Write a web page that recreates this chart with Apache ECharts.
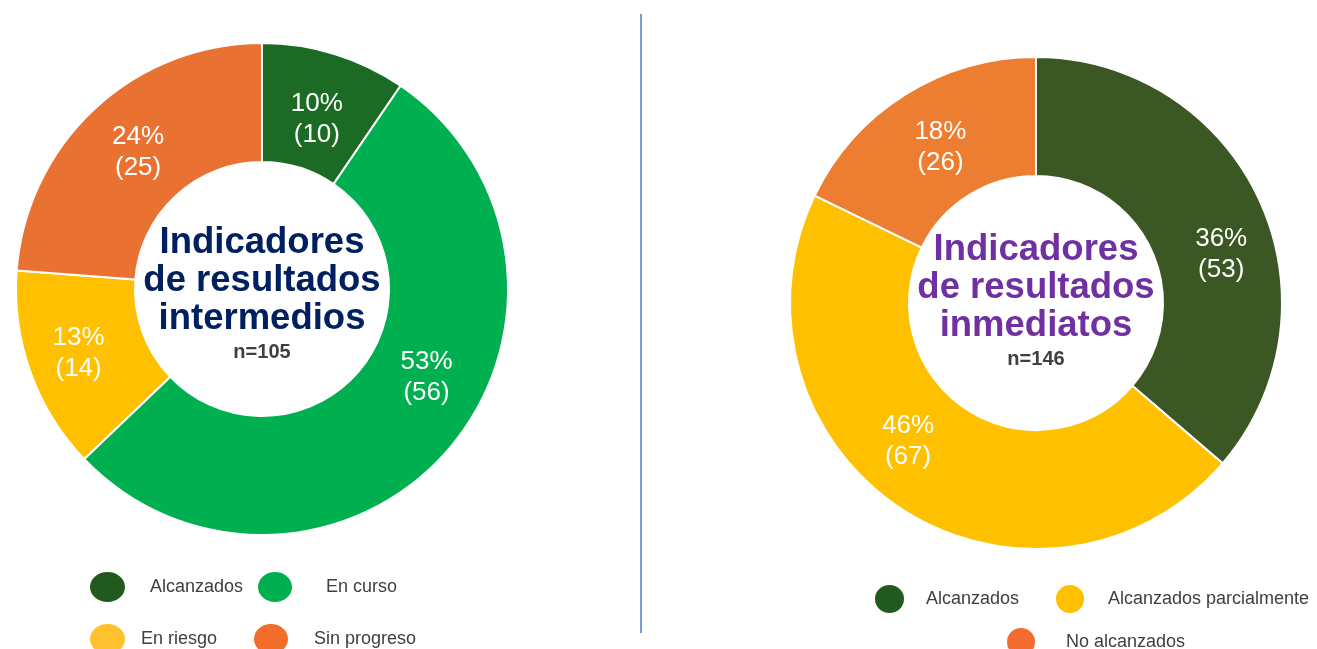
<!DOCTYPE html>
<html>
<head>
<meta charset="utf-8">
<style>
  html, body { margin: 0; padding: 0; background: #ffffff; }
  #chart { width: 1317px; height: 649px; }
</style>
<script src="https://cdn.jsdelivr.net/npm/echarts@6/dist/echarts.min.js"></script>
</head>
<body>
<div id="chart"></div>
<script>
// ---- Data ----
const leftCategories = ['Alcanzados', 'En curso', 'En riesgo', 'Sin progreso'];
const leftValues = [10, 56, 14, 25];
const leftTitle = ['Indicadores', 'de resultados', 'intermedios'];
const leftN = 'n=105';

const rightCategories = ['Alcanzados', 'Alcanzados parcialmente', 'No alcanzados'];
const rightValues = [53, 67, 26];
const rightTitle = ['Indicadores', 'de resultados', 'inmediatos'];
const rightN = 'n=146';

// ---- Styles ----
const leftColors = ['#1B6B25', '#00B050', '#FFC000', '#E97132'];
const rightColors = ['#3A5724', '#FFC000', '#ED7D31'];
const leftLegendColors = ['#215A1E', '#00B050', '#FFC12E', '#F26C2B'];
const rightLegendColors = ['#215A1E', '#FFC000', '#F46B30'];

const FONT = 'Liberation Sans';
const ELLIPSE = 'path://M1,0A1,1,0,1,1,-1,0A1,1,0,1,1,1,0Z';

function pieSeries(name, cats, vals, colors, center, nudges) {
  const total = vals.reduce((a, b) => a + b, 0);
  return {
    type: 'pie',
    name: name,
    center: center,
    radius: [127, 246],
    startAngle: 90,
    clockwise: true,
    avoidLabelOverlap: false,
    silent: true,
    itemStyle: { borderColor: '#ffffff', borderWidth: 2 },
    label: {
      show: true,
      position: 'inside',
      color: '#ffffff',
      fontFamily: FONT,
      fontSize: 26,
      lineHeight: 31,
      formatter: p => Math.round(p.value / total * 100) + '%\n(' + p.value + ')'
    },
    labelLine: { show: false },
    labelLayout: p => nudges[p.dataIndex] || {},
    data: cats.map((c, i) => ({ name: c, value: vals[i], itemStyle: { color: colors[i] } }))
  };
}

function legendItem(name, color, left, top, w, h, gap) {
  return {
    data: [{ name: name, icon: ELLIPSE, itemStyle: { color: color } }],
    left: left, top: top, padding: 0,
    itemWidth: w, itemHeight: h,
    symbolKeepAspect: false,
    selectedMode: false,
    textStyle: { fontFamily: FONT, fontSize: 18, color: '#404040', padding: [0, 0, 0, gap] }
  };
}

function titleText(lines, nText, cx, midY, color) {
  const els = lines.map((t, i) => ({
    type: 'text', x: cx, y: midY + i * 38,
    style: { text: t, align: 'center', verticalAlign: 'middle', fill: color,
             fontFamily: FONT, fontSize: 36.5, fontWeight: 'bold' }
  }));
  els.push({
    type: 'text', x: cx, y: midY + 109,
    style: { text: nText, align: 'center', verticalAlign: 'middle', fill: '#404040',
             fontFamily: FONT, fontSize: 20, fontWeight: 'bold' }
  });
  return els;
}

const chart = echarts.init(document.getElementById('chart'), null, { renderer: 'canvas' });
chart.setOption({
  backgroundColor: '#ffffff',
  animation: false,
  textStyle: { fontFamily: FONT },
  legend: [
    legendItem(leftCategories[0], leftLegendColors[0], 88, 570, 37, 32, 19),
    legendItem(leftCategories[1], leftLegendColors[1], 256, 570, 36, 32, 28),
    legendItem(leftCategories[2], leftLegendColors[2], 88, 622, 37, 32, 10),
    legendItem(leftCategories[3], leftLegendColors[3], 252, 622, 36, 32, 20),
    legendItem(rightCategories[0], rightLegendColors[0], 873, 583, 31, 30, 16),
    legendItem(rightCategories[1], rightLegendColors[1], 1054, 583, 30, 30, 18),
    legendItem(rightCategories[2], rightLegendColors[2], 1005, 626, 30, 30, 25)
  ],
  series: [
    pieSeries('intermedios', leftCategories, leftValues, leftColors, [262, 289],
      [{ dx: -1, dy: 11 }, { dx: 20, dy: -34 }, { dx: -5, dy: 0 }, { dx: 5, dy: 2 }]),
    pieSeries('inmediatos', rightCategories, rightValues, rightColors, [1036, 303],
      [{ dx: 13, dy: 30 }, { dx: -24, dy: -20 }, { dx: 5, dy: 5 }])
  ],
  graphic: [
    { type: 'line', shape: { x1: 641, y1: 14, x2: 641, y2: 633 },
      style: { stroke: '#7B9BDC', lineWidth: 2 } }
  ].concat(
    titleText(leftTitle, leftN, 262, 243, '#002060'),
    titleText(rightTitle, rightN, 1036, 250, '#7030A0')
  )
});
</script>
</body>
</html>
